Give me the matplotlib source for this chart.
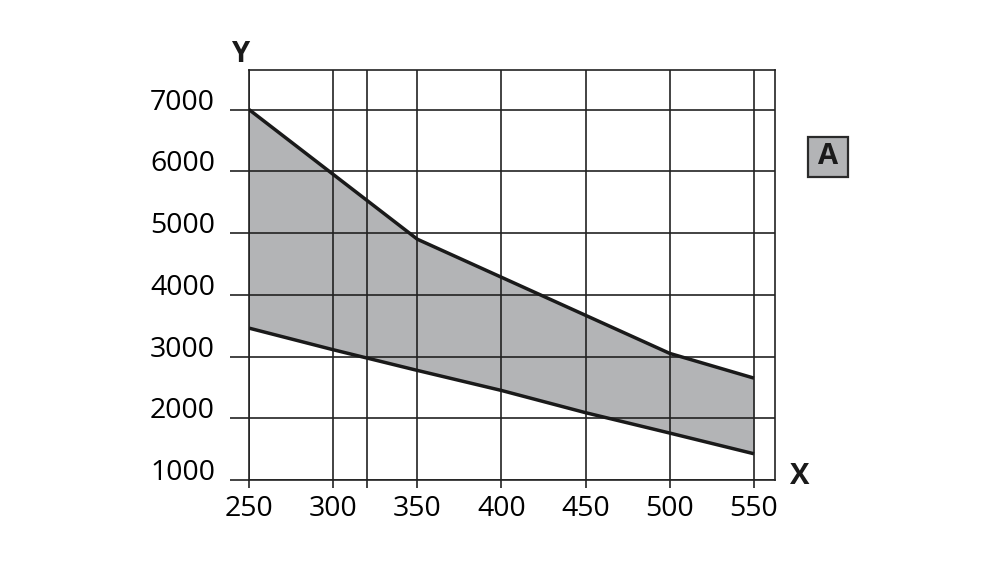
import matplotlib
matplotlib.use('Agg')
import matplotlib.pyplot as plt
from matplotlib.patches import Rectangle
import numpy as np

plt.rcParams['font.family'] = ['Open Sans', 'DejaVu Sans']

# values
x_upper = [250, 350, 500, 550]
y_upper = [7000, 4900, 3050, 2650]
x_lower = [250, 300, 350, 400, 450, 500, 550]
y_lower = [3460, 3110, 2775, 2450, 2090, 1760, 1425]

x_ticks = [250, 300, 320, 350, 400, 450, 500, 550]
x_labels = ['250', '300', '', '350', '400', '450', '500', '550']
y_ticks = [1000, 2000, 3000, 4000, 5000, 6000, 7000]

line_col = '#1a1a1a'
fill_col = '#b3b4b6'
px = 72 / 100  # points per pixel

fig = plt.figure(figsize=(10, 5.62), dpi=100)
ax = fig.add_axes([0.249, 0.1459, 0.526, 0.7295])

# shaded band between the two curves
xs = np.array(x_lower)
up_at = np.interp(xs, x_upper, y_upper)
ax.fill_between(xs, y_lower, up_at, color=fill_col, lw=0, zorder=1)

ax.plot(x_upper, y_upper, color=line_col, lw=2.5, zorder=3, solid_capstyle='butt')
ax.plot(x_lower, y_lower, color=line_col, lw=2.5, zorder=3, solid_capstyle='butt')

ax.set_xlim(250, 562.5)
ax.set_ylim(1000, 7640)

for xv in x_ticks:
    ax.axvline(xv, color='#222222', lw=1.2, zorder=2)
for yv in y_ticks:
    ax.axhline(yv, color='#222222', lw=1.2, zorder=2)

ax.set_xticks(x_ticks)
ax.set_xticklabels(x_labels)
ax.set_yticks(y_ticks)
ax.set_yticklabels([str(v) for v in y_ticks], va='baseline')
ax.tick_params(axis='x', length=8 * px, width=1.2, color='#222222', pad=7 * px, labelsize=20.5)
ax.tick_params(axis='y', length=19 * px, width=1.2, color='#222222', pad=15 * px, labelsize=20.5)

for s in ax.spines.values():
    s.set_color('#222222')
    s.set_linewidth(1.2)

fig.text(0.240, 1 - 54 / 562, 'Y', fontsize=21, fontweight='bold', ha='center', va='center', color='#1a1a1a')
fig.text(0.800, 1 - 476 / 562, 'X', fontsize=21, fontweight='bold', ha='center', va='center', color='#1a1a1a')

box = Rectangle((0.808, 1 - 177 / 562), 0.040, 40 / 562, transform=fig.transFigure,
                facecolor=fill_col, edgecolor='#2a2a2a', lw=1.6)
fig.patches.append(box)
fig.text(0.828, 1 - 157 / 562, 'A', fontsize=21, fontweight='bold', ha='center', va='center', color='#1a1a1a')

fig.savefig('out.png', dpi=100)
